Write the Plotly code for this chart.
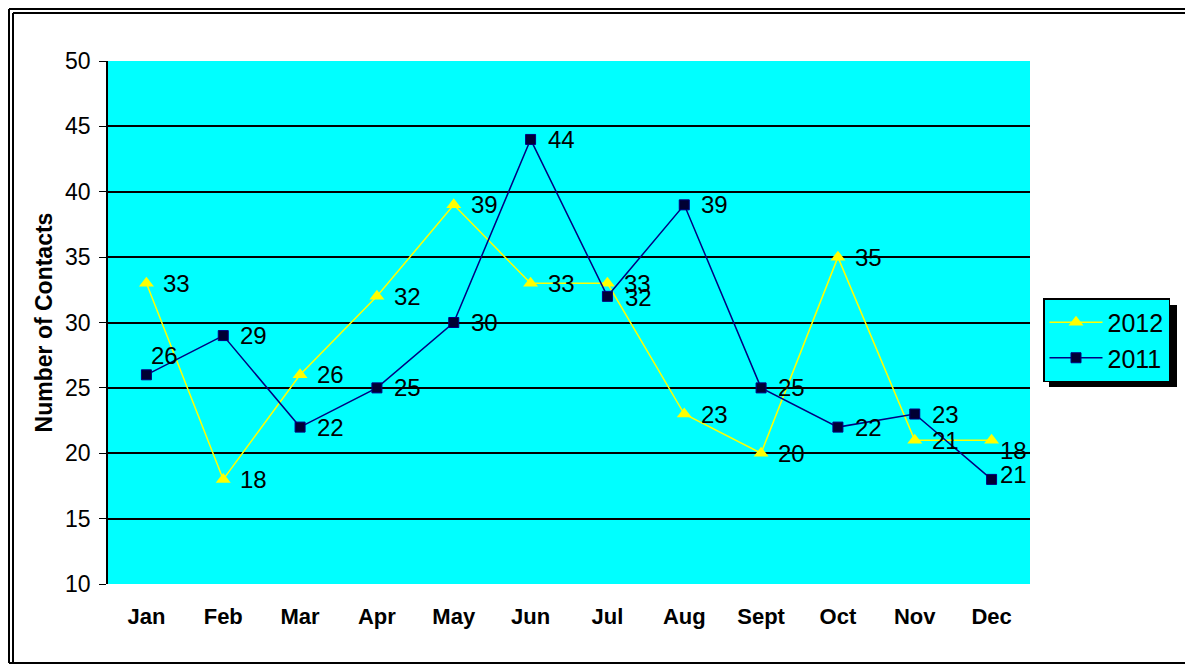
import plotly.graph_objects as go

months = ["Jan", "Feb", "Mar", "Apr", "May", "Jun", "Jul", "Aug", "Sept", "Oct", "Nov", "Dec"]
values_2012 = [33, 18, 26, 32, 39, 33, 33, 23, 20, 35, 21, 21]
values_2011 = [26, 29, 22, 25, 30, 44, 32, 39, 25, 22, 23, 18]
labels_2012 = [33, 18, 26, 32, 39, 33, 33, 23, 20, 35, 21, 18]
labels_2011 = [26, 29, 22, 25, 30, 44, 32, 39, 25, 22, 23, 21]

W, H = 1193, 665
OFF = 8  # page body margin
L, R, T, B = 108, 1030, 61, 584


def px(p):
    return (p - L) / (R - L)


def py(p):
    return (B - p) / (B - T)


FONT = "Liberation Sans, Arial, sans-serif"

fig = go.Figure()
fig.add_trace(go.Scatter(
    x=months, y=values_2012, name="2012", mode="lines+markers",
    line=dict(color="#FFFF00", width=1.5),
    marker=dict(symbol="triangle-up", size=13, color="#FFFF00"),
))
fig.add_trace(go.Scatter(
    x=months, y=values_2011, name="2011", mode="lines+markers",
    line=dict(color="#000080", width=1.5),
    marker=dict(symbol="square", size=10, color="#000033", line=dict(color="#000080", width=1)),
))

# data labels (shift in pixels from each point)
shifts_2012 = [(15, 0)] * 12
shifts_2012[11] = (6, -10)
shifts_2011 = [(15, 0)] * 12
shifts_2011[0] = (3, 19)
shifts_2011[6] = (16, -1)
shifts_2011[11] = (6, 5)
for vals, labs, shifts in ((values_2012, labels_2012, shifts_2012), (values_2011, labels_2011, shifts_2011)):
    for m, v, lab, (dx, dy) in zip(months, vals, labs, shifts):
        fig.add_annotation(x=m, y=v, text=str(lab), showarrow=False, xanchor="left",
                           yanchor="middle", xshift=dx, yshift=dy,
                           font=dict(family=FONT, size=24, color="black"))

shapes = []
# legend shadow
shapes.append(dict(type="rect", xref="paper", yref="paper", layer="below",
                   x0=px(1049), x1=px(1177), y0=py(305), y1=py(387),
                   fillcolor="black", line=dict(width=0)))
# outer double frame
for off in (9, 13):
    shapes.append(dict(type="line", xref="paper", yref="paper", x0=px(off), x1=px(1250),
                       y0=py(off), y1=py(off), line=dict(color="black", width=2)))
    shapes.append(dict(type="line", xref="paper", yref="paper", x0=px(off), x1=px(off),
                       y0=py(off), y1=py(663), line=dict(color="black", width=2)))
shapes.append(dict(type="line", xref="paper", yref="paper", x0=px(9), x1=px(1250),
                   y0=py(663), y1=py(663), line=dict(color="black", width=2)))

fig.update_layout(
    width=W - OFF, height=H - OFF,
    margin=dict(l=L - OFF, r=W - R, t=T - OFF, b=H - B, autoexpand=False),
    paper_bgcolor="white", plot_bgcolor="#00FFFF",
    font=dict(family=FONT, color="black"),
    shapes=shapes,
    showlegend=True,
    legend=dict(x=px(1043), y=py(298), xanchor="left", yanchor="top",
                bgcolor="#00FFFF", bordercolor="black", borderwidth=1.5,
                font=dict(family=FONT, size=25, color="black"),
                itemwidth=53, tracegroupgap=4),
    xaxis=dict(type="category", range=[-0.5, 11.5], showgrid=False, showline=False,
               ticks="", tickfont=dict(family=FONT, size=22, color="black", weight="bold"),
               ticklabelstandoff=17),
    yaxis=dict(range=[10, 50], dtick=5, tick0=10, showgrid=True, gridcolor="black", gridwidth=1.5,
               showline=True, linecolor="black", linewidth=1.5, ticks="outside", ticklen=7,
               tickcolor="black", tickfont=dict(family=FONT, size=23, color="black"),
               ticklabelstandoff=4, zeroline=False,
               title=dict(text="Number of Contacts", standoff=6,
                          font=dict(family=FONT, size=23, color="black", weight="bold"))),
)

fig.write_html("out.html")
